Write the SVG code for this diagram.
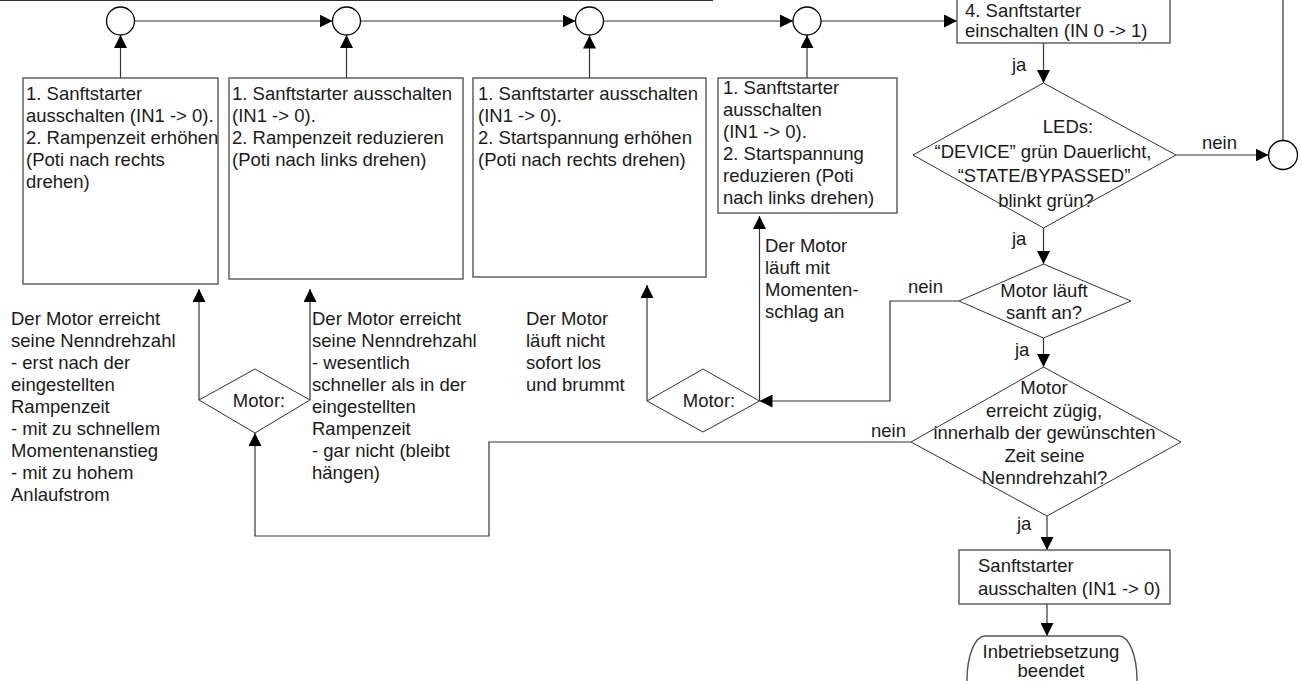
<svg xmlns="http://www.w3.org/2000/svg" width="1301" height="681" viewBox="0 0 1301 681">
<defs>
<marker id="arr" viewBox="0 0 13 13" refX="13" refY="6.5" markerWidth="13" markerHeight="13" markerUnits="userSpaceOnUse" orient="auto">
<path d="M0,0 L13,6.5 L0,13 z" fill="#000"/>
</marker>
<style>
text{font-family:"Liberation Sans",Arial,sans-serif;font-size:18.5px;fill:#1a1a1a}
.c{text-anchor:middle}
.box{fill:#fff;stroke:#555;stroke-width:1.4}
.dia{fill:#fff;stroke:#333;stroke-width:1}
.circ{fill:#fff;stroke:#000;stroke-width:1.3}
.ln{fill:none;stroke:#333;stroke-width:1.2}
.ar{marker-end:url(#arr)}
</style>
</defs>
<rect width="1301" height="681" fill="#fff"/>

<g id="connectors">
<path class="ln" d="M0,0.5 H713"/>
<path class="ln" d="M1283,141 V0"/>
<path class="ln ar" d="M134.5,21 H332.5"/>
<path class="ln ar" d="M361,21 H575.5"/>
<path class="ln ar" d="M604,21 H793"/>
<path class="ln ar" d="M821,21 H957"/>
<path class="ln ar" d="M120.5,78 V35"/>
<path class="ln ar" d="M346.5,78 V35"/>
<path class="ln ar" d="M589.5,78 V35.5"/>
<path class="ln ar" d="M807,78 V35"/>
<path class="ln ar" d="M1043.5,43 V83"/>
<path class="ln ar" d="M1176,155 H1268.5"/>
<path class="ln ar" d="M1043.5,228 V264"/>
<path class="ln ar" d="M1043.5,338 V367"/>
<path class="ln ar" d="M959,301 H890 V401 H759.5"/>
<path class="ln ar" d="M647,401 V285"/>
<path class="ln ar" d="M759.5,401 V216"/>
<path class="ln ar" d="M911,442 H489 V536 H255 V433"/>
<path class="ln ar" d="M199,400 V289"/>
<path class="ln ar" d="M310,400 V289"/>
<path class="ln ar" d="M1047,516 V550"/>
<path class="ln ar" d="M1047,604 V636"/>
<text x="1202" y="149">nein</text>
<text x="908" y="293">nein</text>
<text x="871" y="437">nein</text>
<text x="1012" y="71">ja</text>
<text x="1012" y="245">ja</text>
<text x="1015" y="356">ja</text>
<text x="1017" y="530">ja</text>
</g>

<g id="j1"><circle class="circ" cx="120.5" cy="21" r="14"/></g>
<g id="j2"><circle class="circ" cx="346.5" cy="21" r="14"/></g>
<g id="j3"><circle class="circ" cx="589.5" cy="21" r="14"/></g>
<g id="j4"><circle class="circ" cx="807" cy="21" r="14"/></g>
<g id="j5"><circle class="circ" cx="1283" cy="155" r="14.5"/></g>

<g id="box1">
<rect class="box" x="23" y="78" width="195" height="206"/>
<text x="26" y="99.5">1. Sanftstarter</text>
<text x="26" y="121.5">ausschalten (IN1 -&gt; 0).</text>
<text x="26" y="143.5">2. Rampenzeit erhöhen</text>
<text x="26" y="165.5">(Poti nach rechts</text>
<text x="26" y="187.5">drehen)</text>
</g>
<g id="box2">
<rect class="box" x="229" y="78" width="234" height="201"/>
<text x="232" y="99.5">1. Sanftstarter ausschalten</text>
<text x="232" y="121.5">(IN1 -&gt; 0).</text>
<text x="232" y="143.5">2. Rampenzeit reduzieren</text>
<text x="232" y="165.5">(Poti nach links drehen)</text>
</g>
<g id="box3">
<rect class="box" x="473" y="78" width="233" height="199"/>
<text x="478" y="99.5">1. Sanftstarter ausschalten</text>
<text x="478" y="121.5">(IN1 -&gt; 0).</text>
<text x="478" y="143.5">2. Startspannung erhöhen</text>
<text x="478" y="165.5">(Poti nach rechts drehen)</text>
</g>
<g id="box4">
<rect class="box" x="718" y="78" width="179" height="135"/>
<text x="723" y="93.5">1. Sanftstarter</text>
<text x="723" y="115.5">ausschalten</text>
<text x="723" y="137.7">(IN1 -&gt; 0).</text>
<text x="723" y="160">2. Startspannung</text>
<text x="723" y="182">reduzieren (Poti</text>
<text x="723" y="204">nach links drehen)</text>
</g>
<g id="box5">
<rect class="box" x="957" y="-10" width="213" height="53"/>
<text x="965" y="16.5">4. Sanftstarter</text>
<text x="965" y="37">einschalten (IN 0 -&gt; 1)</text>
</g>
<g id="dLED">
<polygon class="dia" points="1043.5,83 1176,155 1043.5,228 913,155"/>
<text class="c" x="1068" y="132.5">LEDs:</text>
<text class="c" x="1043" y="157.5">“DEVICE” grün Dauerlicht,</text>
<text class="c" x="1044" y="182">“STATE/BYPASSED”</text>
<text class="c" x="1046" y="206.5">blinkt grün?</text>
</g>
<g id="dSanft">
<polygon class="dia" points="1043.5,264 1131,301 1043.5,338 959,301"/>
<text class="c" x="1044" y="297">Motor läuft</text>
<text class="c" x="1044" y="318.5">sanft an?</text>
</g>
<g id="dBig">
<polygon class="dia" points="1043.5,367 1181,442 1047,516 911,442"/>
<text class="c" x="1044" y="394">Motor</text>
<text class="c" x="1044" y="416.5">erreicht zügig,</text>
<text class="c" x="1044.5" y="439">innerhalb der gewünschten</text>
<text class="c" x="1044.5" y="461.5">Zeit seine</text>
<text class="c" x="1044.5" y="484">Nenndrehzahl?</text>
</g>
<g id="dMotorA">
<polygon class="dia" points="255,369 310,400 255,433 199,400"/>
<text class="c" x="259" y="407">Motor:</text>
</g>
<g id="dMotorB">
<polygon class="dia" points="703,369 759.5,401 703,432 647,401"/>
<text class="c" x="709" y="407">Motor:</text>
</g>
<g id="box6">
<rect class="box" x="959" y="550" width="211" height="54"/>
<text x="978" y="572">Sanftstarter</text>
<text x="978" y="595">ausschalten (IN1 -&gt; 0)</text>
</g>
<g id="term">
<rect class="box" x="967" y="636" width="170" height="100" rx="18" ry="44"/>
<text class="c" x="1051" y="658">Inbetriebsetzung</text>
<text class="c" x="1051" y="677">beendet</text>
</g>

<g id="notes">
<text x="11" y="325">Der Motor erreicht</text>
<text x="11" y="347">seine Nenndrehzahl</text>
<text x="11" y="369">- erst nach der</text>
<text x="11" y="391">eingestellten</text>
<text x="11" y="413">Rampenzeit</text>
<text x="11" y="435">- mit zu schnellem</text>
<text x="11" y="457">Momentenanstieg</text>
<text x="11" y="479">- mit zu hohem</text>
<text x="11" y="501">Anlaufstrom</text>
<text x="312" y="325">Der Motor erreicht</text>
<text x="312" y="347">seine Nenndrehzahl</text>
<text x="312" y="369">- wesentlich</text>
<text x="312" y="391">schneller als in der</text>
<text x="312" y="413">eingestellten</text>
<text x="312" y="435">Rampenzeit</text>
<text x="312" y="457">- gar nicht (bleibt</text>
<text x="312" y="479">hängen)</text>
<text x="526" y="325">Der Motor</text>
<text x="526" y="347">läuft nicht</text>
<text x="526" y="369">sofort los</text>
<text x="526" y="391">und brummt</text>
<text x="765" y="252">Der Motor</text>
<text x="765" y="274">läuft mit</text>
<text x="765" y="296">Momenten-</text>
<text x="765" y="318">schlag an</text>
</g>
</svg>
